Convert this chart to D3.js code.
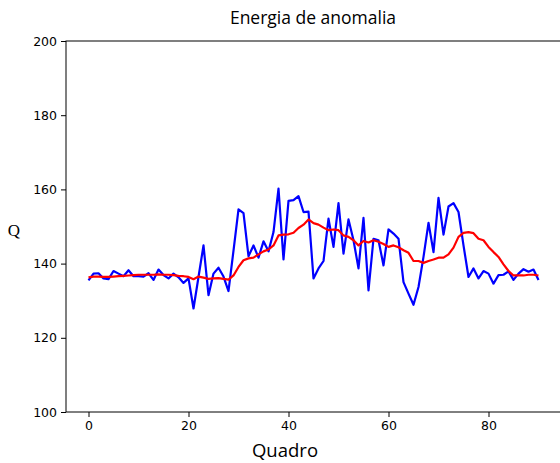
<!DOCTYPE html>
<html>
<head>
<meta charset="utf-8">
<script src="https://cdn.jsdelivr.net/npm/d3@7"></script>
<style>
  body { margin: 0; background: #fff; }
  svg { display: block; }
</style>
</head>
<body>
<div id="chart"></div>
<script>
const width = 560;
const height = 463;

const blueValues = [
  135.5, 137.3, 137.4, 136.0, 135.8, 138.0, 137.3, 136.6, 138.2, 136.6,
  136.6, 136.5, 137.4, 135.6, 138.4, 136.9, 136.0, 137.3, 136.3, 134.8,
  136.0, 127.9, 136.4, 144.9, 131.5, 137.3, 138.9, 136.5, 132.6, 143.5,
  154.6, 153.6, 142.0, 144.9, 141.6, 146.0, 143.3, 148.5, 160.2, 141.1,
  156.9, 157.1, 158.2, 153.9, 154.0, 136.0, 138.7, 140.7, 152.1, 144.5,
  156.3, 142.7, 151.9, 146.3, 138.7, 152.3, 132.8, 146.7, 146.3, 139.5,
  149.2, 148.1, 146.7, 135.0, 131.9, 128.9, 133.7, 141.8, 151.0, 143.1,
  157.7, 147.8, 155.4, 156.3, 153.9, 144.9, 136.4, 138.7, 136.0, 138.0,
  137.3, 134.6, 136.9, 137.0, 137.9, 135.6, 137.3, 138.5, 137.8, 138.4,
  135.6
];

const redValues = [
  136.3, 136.5, 136.5, 136.4, 136.4, 136.5, 136.6, 136.7, 136.8, 136.9,
  137.0, 137.0, 137.0, 137.0, 137.1, 137.0, 137.0, 136.9, 136.7, 136.6,
  136.4, 135.8, 136.5, 136.2, 135.9, 136.0, 136.1, 135.9, 135.7, 136.8,
  139.1, 140.9, 141.4, 141.6, 142.5, 143.3, 143.8, 144.9, 147.6, 147.8,
  147.9, 148.3, 149.6, 150.5, 151.9, 150.9, 150.5, 149.7, 149.0, 149.2,
  149.0, 147.6, 147.2, 146.3, 144.9, 146.1, 145.7, 146.3, 145.9, 145.3,
  144.5, 144.9, 144.4, 143.6, 142.9, 140.7, 140.7, 140.2, 140.7, 141.1,
  141.6, 141.6, 142.5, 144.3, 147.2, 148.3, 148.5, 148.2, 146.7, 146.3,
  144.5, 143.1, 141.8, 139.8, 138.0, 136.8, 136.8, 136.8, 137.0, 137.0,
  136.8
];

const xTicks = [0, 20, 40, 60, 80];
const yTicks = [100, 120, 140, 160, 180, 200];

const margin = { top: 41, left: 66, plotRight: 561, bottom: 412 };

const svg = d3.select("#chart")
  .append("svg")
  .attr("width", width)
  .attr("height", height);

const x = d3.scaleLinear()
  .domain([-4.5, 94.5])
  .range([margin.left, margin.plotRight]);

const y = d3.scaleLinear()
  .domain([100, 200])
  .range([margin.bottom, margin.top]);

// frame
svg.append("rect")
  .attr("x", margin.left)
  .attr("y", margin.top)
  .attr("width", margin.plotRight - margin.left)
  .attr("height", margin.bottom - margin.top)
  .style("fill", "none")
  .style("stroke", "#000")
  .style("stroke-width", 1);

const xAxis = svg.append("g")
  .attr("transform", `translate(0,${margin.bottom})`)
  .call(d3.axisBottom(x).tickValues(xTicks).tickSize(5).tickPadding(4));

const yAxis = svg.append("g")
  .attr("transform", `translate(${margin.left},0)`)
  .call(d3.axisLeft(y).tickValues(yTicks).tickSize(5).tickPadding(4));

[xAxis, yAxis].forEach(a => {
  a.select(".domain").remove();
  a.selectAll("text")
    .style("font-family", "DejaVu Sans, sans-serif")
    .style("font-size", "12.5px")
    .style("fill", "#000");
  a.selectAll("line").style("stroke", "#000");
});

const line = d3.line()
  .x((d, i) => x(i))
  .y(d => y(d));

svg.append("path")
  .datum(blueValues)
  .attr("d", line)
  .style("fill", "none")
  .style("stroke", "#0000ff")
  .style("stroke-width", 2.2)
  .style("stroke-linejoin", "round");

svg.append("path")
  .datum(redValues)
  .attr("d", line)
  .style("fill", "none")
  .style("stroke", "#ff0000")
  .style("stroke-width", 2.2)
  .style("stroke-linejoin", "round");

svg.append("text")
  .attr("x", 313)
  .attr("y", 24)
  .attr("text-anchor", "middle")
  .style("font-family", "Open Sans, sans-serif")
  .style("font-size", "17.5px")
  .text("Energia de anomalia");

svg.append("text")
  .attr("x", 285)
  .attr("y", 457)
  .attr("text-anchor", "middle")
  .style("font-family", "Open Sans, sans-serif")
  .style("font-size", "18.5px")
  .text("Quadro");

svg.append("text")
  .attr("x", 14)
  .attr("y", 236)
  .attr("text-anchor", "middle")
  .style("font-family", "Liberation Serif, serif")
  .style("font-size", "17px")
  .text("Q");
</script>
</body>
</html>
